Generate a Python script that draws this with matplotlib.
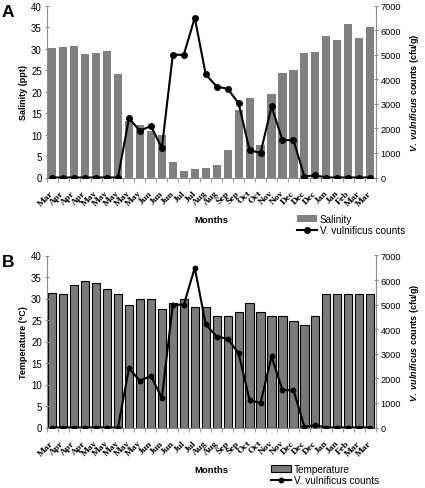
import matplotlib
matplotlib.use('Agg')
import matplotlib.pyplot as plt
import matplotlib.transforms as mtrans
from matplotlib.lines import Line2D
from matplotlib.patches import Patch
import numpy as np

months = ['Mar', 'Apr', 'Apr', 'Apr', 'May', 'May', 'May', 'May', 'May', 'Jun',
          'Jun', 'Jun', 'Jul', 'Jul', 'Aug', 'Aug', 'Sep', 'Sep', 'Oct', 'Oct',
          'Nov', 'Nov', 'Dec', 'Dec', 'Dec', 'Jan', 'Jan', 'Feb', 'Mar', 'Mar']
salinity = [30.1, 30.4, 30.5, 28.8, 28.9, 29.4, 24.1, 13.2, 12.2, 10.7,
            10.0, 3.7, 1.4, 2.0, 2.1, 2.9, 6.5, 15.7, 18.4, 7.5,
            19.4, 24.4, 25.1, 29.0, 29.2, 33.0, 31.9, 35.8, 32.4, 35.0]
temperature = [31.2, 31.1, 33.1, 34.0, 33.6, 32.2, 31.1, 28.5, 30.0, 30.0,
               27.5, 29.0, 30.0, 28.0, 28.0, 26.0, 26.0, 26.9, 28.9, 26.9,
               26.0, 26.0, 24.8, 23.8, 26.0, 31.0, 31.0, 31.0, 31.0, 31.0]
counts = [0, 0, 0, 0, 0, 0, 0, 2410, 1900, 2100,
          1200, 5000, 4990, 6500, 4200, 3700, 3610, 3020, 1110, 1000,
          2890, 1520, 1520, 40, 90, 0, 0, 0, 0, 0]

plt.rcParams['font.family'] = ['Liberation Sans', 'DejaVu Sans']
plt.rcParams['mathtext.fontset'] = 'custom'
plt.rcParams['mathtext.it'] = 'Liberation Sans:italic:bold'
plt.rcParams['mathtext.rm'] = 'Liberation Sans:bold'

W, H = 425, 489
fig = plt.figure(figsize=(W / 100, H / 100), dpi=100)

x = np.arange(len(months))
spine_col = '#8c8c8c'
shift = mtrans.ScaledTranslation(-0.045, 0, fig.dpi_scale_trans)


def panel(top_px, values, ylabel, letter, edge, legend_name, leg_x, leg_y, mk):
    ax = fig.add_axes([46.7 / W, 1 - (top_px + 172) / H, 329 / W, 172 / H])
    if edge:
        ax.bar(x, values, width=0.75, color='#7a7a7a', edgecolor='black', linewidth=0.8)
    else:
        ax.bar(x, values, width=0.74, color='#808080')
    ax.set_xlim(-0.5, len(months) - 0.5)
    ax.set_ylim(0, 40)
    ax.set_yticks(range(0, 41, 5))
    ax.set_xticks(x)
    ax.set_xticklabels(months, rotation=45, ha='right', va='center',
                       rotation_mode='anchor', fontfamily='Liberation Serif',
                       fontweight='bold', fontsize=6.8)
    for lab in ax.get_xticklabels():
        lab.set_transform(lab.get_transform() + shift)
    ax.set_xticks(np.arange(-0.5, len(months), 1), minor=True)
    ax.tick_params(axis='x', which='major', length=0, pad=10)
    ax.tick_params(axis='x', which='minor', length=3, color=spine_col, direction='out')
    ax.tick_params(axis='y', length=3, direction='inout', color=spine_col, labelsize=7, pad=2)
    ax.set_ylabel(ylabel, fontsize=6.5, fontweight='bold', labelpad=2)
    ax.spines['top'].set_visible(False)
    ax.spines['right'].set_visible(False)
    for s in ['left', 'bottom']:
        ax.spines[s].set_color(spine_col)

    ax2 = ax.twinx()
    ax2.plot(x, counts, color='black', lw=1.5, marker='o', markersize=mk)
    ax2.set_ylim(0, 7000)
    ax2.set_yticks(range(0, 7001, 1000))
    ax2.tick_params(axis='y', length=3, direction='inout', color=spine_col, labelsize=6.6, pad=2)
    ax2.set_ylabel(r'$\mathit{V.\ vulnificus}$ counts (cfu/g)', fontsize=6.5,
                   fontweight='bold', labelpad=5)
    for s in ['top', 'left', 'bottom']:
        ax2.spines[s].set_visible(False)
    ax2.spines['right'].set_color(spine_col)

    ax.text(0.5, -0.245, 'Months', transform=ax.transAxes, ha='center', va='center',
            fontsize=6.8, fontweight='bold')
    fig.text(2 / W, 1 - (top_px + 6) / H, letter, fontsize=12.5, fontweight='bold',
             va='center', ha='left')

    if edge:
        ph = Patch(facecolor='#7a7a7a', edgecolor='black', linewidth=0.8)
    else:
        ph = Patch(facecolor='#808080')
    lh = Line2D([], [], color='black', lw=1.5, marker='o', markersize=mk)
    fig.legend([ph, lh], [legend_name, 'V. vulnificus counts'], loc='upper left',
               bbox_to_anchor=(leg_x / W, 1 - leg_y / H), frameon=False, fontsize=7.2,
               handlelength=2.0, handletextpad=0.3, labelspacing=0.15,
               borderpad=0, borderaxespad=0, handleheight=0.6)
    return ax, ax2


panel(6.5, salinity, 'Salinity (ppt)', 'A', False, 'Salinity', 297, 215, 4)
panel(256.5, temperature, 'Temperature (°C)', 'B', True, 'Temperature', 271, 465, 3.2)

fig.savefig('out.png', dpi=100)
